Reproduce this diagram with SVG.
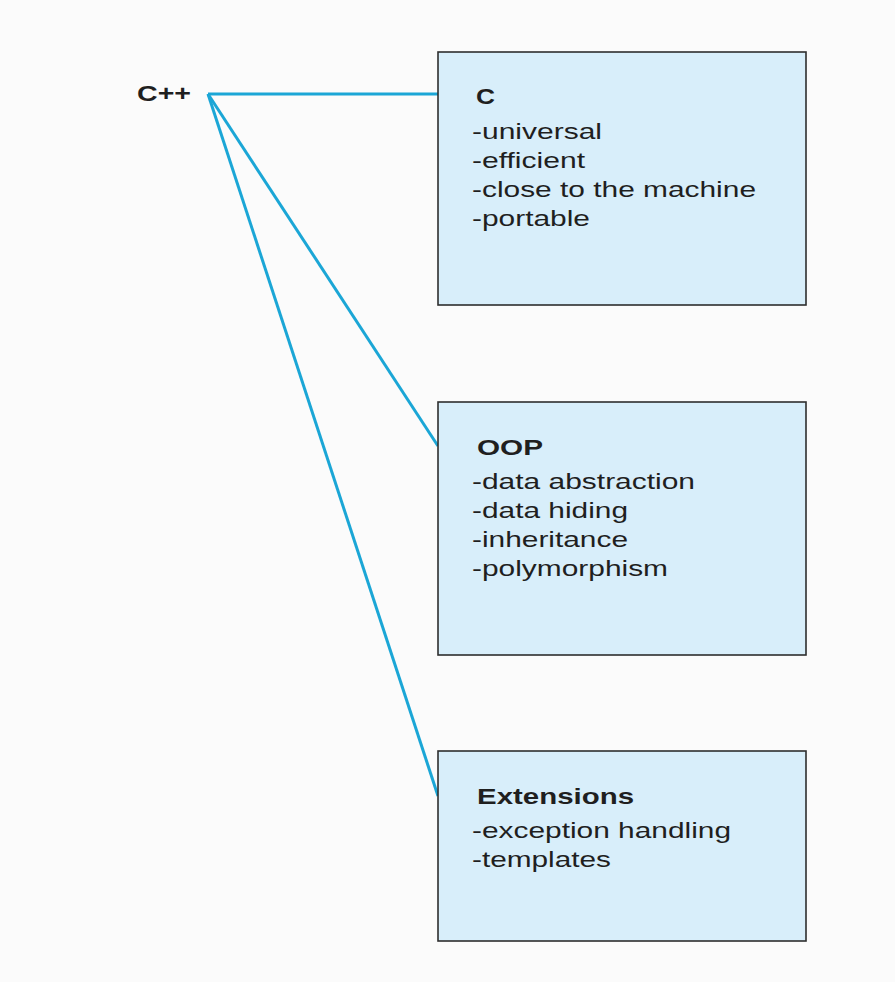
<svg xmlns="http://www.w3.org/2000/svg" width="895" height="982" viewBox="0 0 895 982">
<style>
.box{fill:#d8eefa;stroke:#2e2e2e;stroke-width:1.6}
.conn{stroke:#1ba6d6;stroke-width:3;fill:none;stroke-linecap:butt}
.t{font-family:"Liberation Sans",Arial,sans-serif;font-size:22px;fill:#1f1f1f}
.b{font-weight:bold}
</style>
<rect width="895" height="982" fill="#fbfbfb"/>
<g id="connectors">
<line class="conn" x1="208" y1="94" x2="438" y2="94"/>
<line class="conn" x1="208" y1="94" x2="438" y2="446"/>
<line class="conn" x1="208" y1="94" x2="438" y2="796"/>
</g>
<g id="cpp">
<text class="t b" x="137" y="101" textLength="54" lengthAdjust="spacingAndGlyphs">C++</text>
</g>
<g id="c">
<rect class="box" x="438" y="52" width="368" height="253"/>
<text class="t b" x="476" y="104" textLength="19" lengthAdjust="spacingAndGlyphs">C</text>
<text class="t" x="472" y="139" textLength="130" lengthAdjust="spacingAndGlyphs">-universal</text>
<text class="t" x="472" y="168" textLength="113" lengthAdjust="spacingAndGlyphs">-efficient</text>
<text class="t" x="472" y="197" textLength="284" lengthAdjust="spacingAndGlyphs">-close to the machine</text>
<text class="t" x="472" y="226" textLength="118" lengthAdjust="spacingAndGlyphs">-portable</text>
</g>
<g id="oop">
<rect class="box" x="438" y="402" width="368" height="253"/>
<text class="t b" x="477" y="455" textLength="66" lengthAdjust="spacingAndGlyphs">OOP</text>
<text class="t" x="472" y="489" textLength="223" lengthAdjust="spacingAndGlyphs">-data abstraction</text>
<text class="t" x="472" y="518" textLength="156" lengthAdjust="spacingAndGlyphs">-data hiding</text>
<text class="t" x="472" y="547" textLength="156" lengthAdjust="spacingAndGlyphs">-inheritance</text>
<text class="t" x="472" y="576" textLength="196" lengthAdjust="spacingAndGlyphs">-polymorphism</text>
</g>
<g id="extensions">
<rect class="box" x="438" y="751" width="368" height="190"/>
<text class="t b" x="477" y="804" textLength="157" lengthAdjust="spacingAndGlyphs">Extensions</text>
<text class="t" x="472" y="838" textLength="259" lengthAdjust="spacingAndGlyphs">-exception handling</text>
<text class="t" x="472" y="867" textLength="139" lengthAdjust="spacingAndGlyphs">-templates</text>
</g>
</svg>
